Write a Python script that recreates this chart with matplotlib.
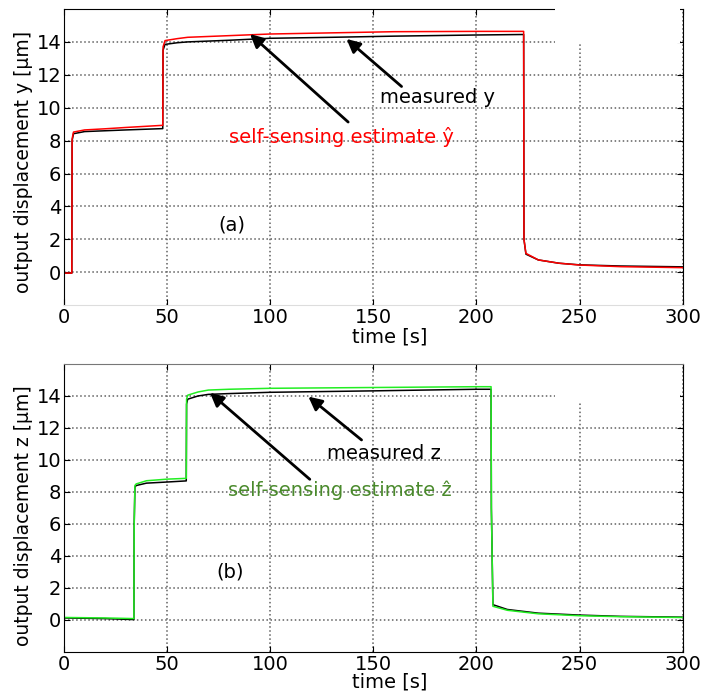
import matplotlib
matplotlib.use("Agg")
import matplotlib.pyplot as plt
from matplotlib.patches import Rectangle

# (a) desplazamiento y: medido (negro) y estimado (rojo)
t_y = [0, 3.8, 3.95, 4.6, 10, 20, 30, 47.9, 48.05, 49, 55, 60, 80, 100,
       130, 160, 200, 222.9, 223.05, 224, 230, 240, 250, 270, 300]
meas_y = [-0.05, -0.05, 8.0, 8.42, 8.55, 8.6, 8.65, 8.73, 13.5, 13.85, 13.95,
          14.0, 14.1, 14.22, 14.28, 14.35, 14.42, 14.45, 2.0, 1.1, 0.75,
          0.55, 0.45, 0.38, 0.33]
est_y = [-0.05, -0.05, 8.1, 8.52, 8.65, 8.72, 8.8, 8.93, 13.7, 14.08, 14.2,
         14.28, 14.38, 14.48, 14.55, 14.62, 14.64, 14.64, 2.0, 1.15, 0.75,
         0.55, 0.44, 0.34, 0.28]

# (b) desplazamiento z: medido (negro) y estimado (verde)
t_z = [0, 20, 33.9, 34.05, 34.4, 35, 40, 50, 59.3, 59.45, 60, 65, 70, 80,
       100, 150, 200, 207.1, 207.25, 208, 215, 230, 250, 270, 300]
meas_z = [0.12, 0.08, 0.02, 6.0, 8.3, 8.4, 8.55, 8.62, 8.69, 13.5, 13.8,
          14.0, 14.1, 14.15, 14.23, 14.32, 14.42, 14.42, 7.0, 0.95, 0.65,
          0.42, 0.3, 0.22, 0.17]
est_z = [0.15, 0.12, 0.08, 6.0, 8.4, 8.5, 8.7, 8.8, 8.85, 13.8, 14.05,
         14.25, 14.37, 14.42, 14.48, 14.53, 14.58, 14.58, 7.0, 0.85, 0.6,
         0.38, 0.26, 0.2, 0.15]

xticks = [0, 50, 100, 150, 200, 250, 300]
yticks = [0, 2, 4, 6, 8, 10, 12, 14]

fig = plt.figure(figsize=(7.27, 6.92), dpi=100)
ax1 = fig.add_axes([0.088, 0.559, 0.851, 0.428])
ax2 = fig.add_axes([0.088, 0.058, 0.851, 0.416])

green_txt = '#4a8a2c'
fs = 14


def estilo(ax, ylab, ylab_y, xlab_y):
    ax.set_xlim(0, 300)
    ax.set_ylim(-2, 16)
    ax.set_xticks(xticks)
    ax.set_yticks(yticks)
    ax.grid(True, linestyle=':', color='#606060', linewidth=1.1)
    ax.tick_params(direction='in', length=4, top=True, right=True,
                   labelsize=fs, pad=2)
    ax.set_xlabel('time [s]', fontsize=fs)
    ax.set_ylabel(ylab, fontsize=13.5)
    ax.xaxis.set_label_coords(0.527, xlab_y)
    ax.yaxis.set_label_coords(-0.066, ylab_y)
    ax.xaxis.label.set_va('center')
    ax.yaxis.label.set_va('center')


def flecha(ax, tip, tail):
    ax.annotate('', xy=tip, xytext=tail,
                arrowprops=dict(arrowstyle='-|>', color='black', lw=2,
                                mutation_scale=20, shrinkA=0, shrinkB=0))


# ---- (a)
ax1.plot(t_y, meas_y, color='black', lw=1.1)
ax1.plot(t_y, est_y, color='red', lw=1.1)
estilo(ax1, 'output displacement y [μm]', 0.484, -0.106)
ax1.spines['bottom'].set_color('#dddddd')
ax1.add_patch(Rectangle((0.793, 0.885), 0.203, 0.13, transform=ax1.transAxes,
                        facecolor='white', edgecolor='none', zorder=3,
                        clip_on=False))
flecha(ax1, (137, 14.18), (163.7, 11.29))
ax1.text(153, 10.62, 'measured y', fontsize=fs, ha='left', va='center')
flecha(ax1, (90.2, 14.48), (137.8, 9.13))
ax1.text(134.6, 8.22, 'self-sensing estimate ŷ', fontsize=fs, color='red',
         ha='center', va='center')
ax1.text(81.3, 2.87, '(a)', fontsize=fs, ha='center', va='center')

# ---- (b)
ax2.plot(t_z, meas_z, color='black', lw=1.1)
ax2.plot(t_z, est_z, color='#22ee22', lw=1.1)
estilo(ax2, 'output displacement z [μm]', 0.473, -0.105)
ax2.spines['top'].set_color('#777777')
ax2.add_patch(Rectangle((0.793, 0.87), 0.203, 0.127, transform=ax2.transAxes,
                        facecolor='white', edgecolor='none', zorder=1.8))
flecha(ax2, (118.5, 13.96), (144.3, 11.25))
ax2.text(127.3, 10.42, 'measured z', fontsize=fs, ha='left', va='center')
flecha(ax2, (70.8, 14.2), (119.2, 8.79))
ax2.text(133.6, 8.08, 'self-sensing estimate ẑ', fontsize=fs, color=green_txt,
         ha='center', va='center')
ax2.text(80.5, 3.02, '(b)', fontsize=fs, ha='center', va='center')

fig.savefig('out.png', dpi=100)
